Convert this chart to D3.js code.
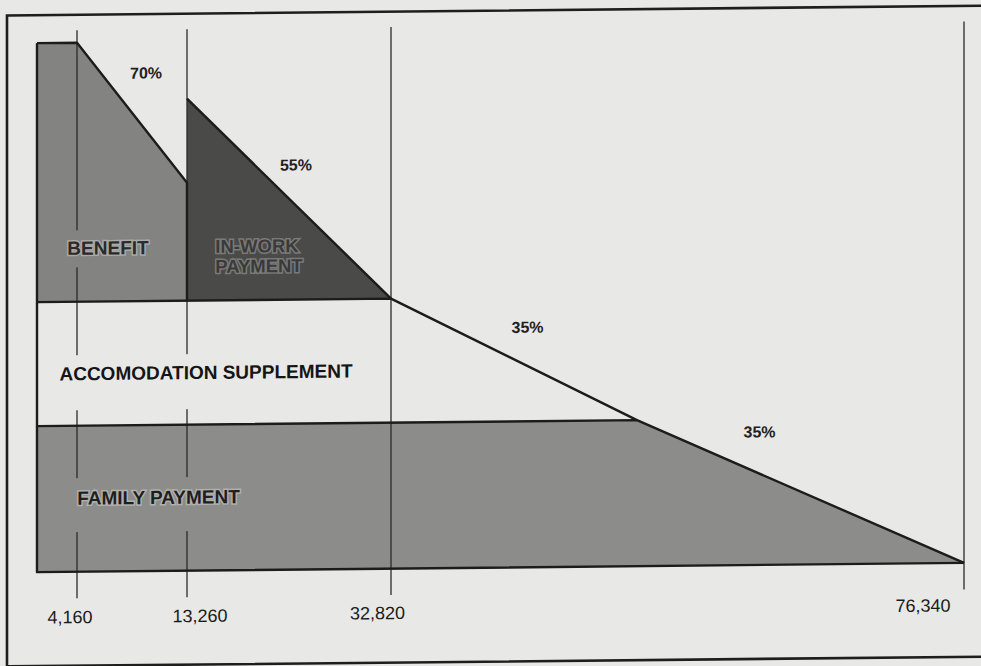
<!DOCTYPE html>
<html>
<head>
<meta charset="utf-8">
<script src="https://cdn.jsdelivr.net/npm/d3@7"></script>
<style>
  html, body { margin: 0; padding: 0; background: #e8e8e6; }
  svg { display: block; }
  text { font-family: "Liberation Sans", Arial, sans-serif; }
</style>
</head>
<body>
<svg id="chart" width="981" height="666"></svg>
<script>
// ---- data (annual income, $) ----
const incomeBreaks = [0, 4160, 13260, 32820, 76340];
const tickValues = [4160, 13260, 32820, 76340];
const tickLabels = ["4,160", "13,260", "32,820", "76,340"];
const meetIncome = 51500;            // where accommodation taper meets family payment
const familyLevel = 7300;            // top of family payment block
const accomLevel = 13500;            // top of accommodation supplement block
const benefitMax = 26450;            // benefit plateau
const benefitEnd = 19400;            // benefit height at 13,260 after 70% taper
const inWorkStart = 23600;           // in-work payment height at 13,260
const taperLabels = ["70%", "55%", "35%", "35%"];
const taperLabelPos = [[9870, 24625], [23710, 19950], [43190, 11725], [60810, 6375]];
const regionNames = ["BENEFIT", "IN-WORK PAYMENT", "ACCOMODATION SUPPLEMENT", "FAMILY PAYMENT"];

// ---- layout ----
const svg = d3.select("#chart");
const W = 981, H = 666;
svg.append("rect").attr("width", W).attr("height", H).attr("fill", "#e8e8e6");

const g = svg.append("g").attr("transform", "skewY(-0.57)");

// outer frame
g.append("rect").attr("x", 7).attr("y", 15.5).attr("width", 985).attr("height", 651)
  .attr("fill", "none").attr("stroke", "#1e1e1e").attr("stroke-width", 2.6);

const x = d3.scaleLinear().domain(incomeBreaks).range([37, 77, 187, 391, 964]);
const y = d3.scaleLinear().domain([0, 26450]).range([572.5, 43.5]);

const line = d3.line().x(d => x(d[0])).y(d => y(d[1]));
const area = d3.line().x(d => x(d[0])).y(d => y(d[1])).curve(d3.curveLinearClosed);

const cFamily = "#8c8c8a", cBenefit = "#838381", cInWork = "#4a4a49", cBg = "#e8e8e6";

// fills
g.append("path").attr("d", area([[0,0],[0,familyLevel],[meetIncome,familyLevel],[76340,0]]))
  .attr("fill", cFamily);
g.append("path").attr("d", area([[0,accomLevel],[0,benefitMax],[4160,benefitMax],[13260,benefitEnd],[13260,accomLevel]]))
  .attr("fill", cBenefit);
g.append("path").attr("d", area([[13260,accomLevel],[13260,inWorkStart],[32820,accomLevel]]))
  .attr("fill", cInWork);

// vertical reference lines
g.selectAll("line.v").data(tickValues).enter().append("line")
  .attr("class", "v")
  .attr("x1", d => x(d)).attr("x2", d => x(d))
  .attr("y1", 31).attr("y2", 599)
  .attr("stroke", "#2a2a2a").attr("stroke-width", 1.3);

// label boxes masking the reference lines
const boxes = [
  {x: 60, y: 231, w: 96, h: 37, fill: cBenefit},
  {x: 50, y: 356, w: 310, h: 55, fill: cBg},
  {x: 68, y: 479, w: 182, h: 54, fill: cFamily}
];
g.selectAll("rect.box").data(boxes).enter().append("rect")
  .attr("x", d => d.x).attr("y", d => d.y).attr("width", d => d.w).attr("height", d => d.h)
  .attr("fill", d => d.fill);

// outlines
const stroke = (pts) => g.append("path").attr("d", line(pts)).attr("fill", "none")
  .attr("stroke", "#1c1c1c").attr("stroke-width", 2.4).attr("stroke-linejoin", "round");
stroke([[0,benefitMax],[0,0],[76340,0]]);
stroke([[0,familyLevel],[meetIncome,familyLevel],[76340,0]]);
stroke([[0,accomLevel],[32820,accomLevel],[meetIncome,familyLevel]]);
stroke([[0,benefitMax],[4160,benefitMax],[13260,benefitEnd],[13260,accomLevel]]);
stroke([[13260,inWorkStart],[32820,accomLevel]]);

// tick labels
const tickDx = [-7, 13, -13.5, -41];
const tickDy = [0, 0, -1, -3];
g.selectAll("text.tick").data(tickValues).enter().append("text")
  .attr("class", "tick")
  .attr("x", d => x(d)).attr("y", 624)
  .attr("text-anchor", "middle")
  .attr("dx", (d, i) => tickDx[i]).attr("dy", (d, i) => tickDy[i])
  .attr("font-size", 18).attr("fill", "#1a1a1a")
  .text((d, i) => tickLabels[i]);

// taper labels
g.selectAll("text.taper").data(taperLabels).enter().append("text")
  .attr("class", "taper")
  .attr("x", (d, i) => x(taperLabelPos[i][0])).attr("y", (d, i) => y(taperLabelPos[i][1]))
  .attr("text-anchor", "middle")
  .attr("font-size", 16).attr("font-weight", "bold").attr("fill", "#222")
  .text(d => d);

// region labels
const halo = (sel, col) => sel.attr("stroke", col).attr("stroke-width", 3).attr("paint-order", "stroke");
halo(g.append("text").attr("x", 108).attr("y", 255.5).attr("text-anchor", "middle")
  .attr("font-size", 19).attr("font-weight", "bold").attr("fill", "#2a2a2a")
  .text(regionNames[0]), "#a9a9a7");
const iw = g.append("text").attr("text-anchor", "middle")
  .attr("font-size", 18.5).attr("font-weight", "bold").attr("fill", "#3a3a3a");
iw.append("tspan").attr("x", 257).attr("y", 255).text("IN-WORK");
iw.append("tspan").attr("x", 259).attr("y", 275).text("PAYMENT");
halo(iw, "#7a7a79");
g.append("text").attr("x", 206).attr("y", 381).attr("text-anchor", "middle")
  .attr("font-size", 19).attr("font-weight", "bold").attr("fill", "#151515")
  .text(regionNames[2]);
halo(g.append("text").attr("x", 158.5).attr("y", 505.5).attr("text-anchor", "middle")
  .attr("font-size", 19).attr("font-weight", "bold").attr("fill", "#1e1e1e")
  .text(regionNames[3]), "#b0b0ae");
</script>
</body>
</html>
